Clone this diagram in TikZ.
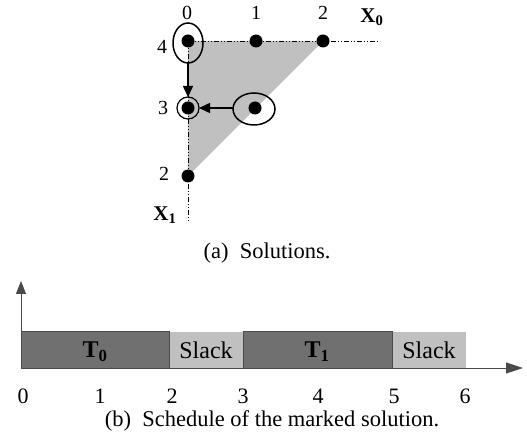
\documentclass[tikz,border=0pt]{standalone}
\usepackage{fontspec}
\setmainfont{Liberation Serif}
\usetikzlibrary{arrows.meta}
\definecolor{lgray}{HTML}{C0C0C0}
\definecolor{dgray}{HTML}{707070}
\definecolor{dedge}{HTML}{4A4A4A}
\begin{document}
\begin{tikzpicture}[x=1pt,y=-1pt,
  dot/.style={circle,fill=black,inner sep=0pt,minimum size=13pt},
  lbl/.style={inner sep=0pt,font=\fontsize{20}{22}\selectfont},
  axisdd/.style={line width=0.9pt,dash pattern=on 5pt off 2pt on 1pt off 2pt on 1pt off 2pt},
  arr/.style={line width=1.5pt,-{Triangle[length=11pt,width=10pt]}},
  task/.style={fill=dgray,draw=dedge,line width=1pt},
  slackbox/.style={fill=lgray},
  txt/.style={inner sep=0pt,font=\fontsize{24}{26}\selectfont},
  captxt/.style={inner sep=0pt,font=\fontsize{22.5}{24}\selectfont}]
\useasboundingbox (0,0) rectangle (527,443);
% top plot
\fill[lgray] (188,41) -- (323,41) -- (188,176) -- cycle;
\coordinate (x0end) at (380,41);
\coordinate (x1end) at (188,222);
\coordinate (orig) at (188,41);
\draw[axisdd] (orig) -- (x0end);
\draw[axisdd] (orig) -- (x1end);
\node[dot] (p04) at (188,41) {};
\node[dot] (p14) at (256,41) {};
\node[dot] (p24) at (323,41) {};
\node[dot] (p03) at (188,108) {};
\node[dot] (p13) at (255,108) {};
\node[dot] (p02) at (188,176) {};
\draw[line width=1.5pt] (188,43) ellipse [x radius=15, y radius=20];
\draw[line width=1.5pt] (254,109) ellipse [x radius=21, y radius=16];
\draw[line width=1.2pt] (188,108) circle [radius=11];
\coordinate (e1b) at (188,63);
\coordinate (c1t) at (188,97);
\coordinate (e2l) at (233,108);
\coordinate (c1r) at (199,108);
\draw[arr] (e1b) -- (c1t);
\draw[arr] (e2l) -- (c1r);
\node[lbl] (t0) at (187,13) {0};
\node[lbl] (t1) at (256,13) {1};
\node[lbl] (t2) at (323,13) {2};
\node[lbl] (r4) at (162,47) {4};
\node[lbl] (r3) at (163,108) {3};
\node[lbl] (r2) at (164,174) {2};
\node[lbl,font=\fontsize{21}{22}\selectfont\bfseries] (lx0) at (372,17) {X$_{\mathbf 0}$};
\node[lbl,font=\fontsize{21}{22}\selectfont\bfseries] (lx1) at (165,215) {X$_{\mathbf 1}$};
\node[captxt] (capa) at (267,253) {(a)\ \ Solutions.};
% bottom schedule
\fill[slackbox] (169,332) rectangle (243,368);
\fill[slackbox] (392,332) rectangle (466,368);
\draw[task] (21,332) rectangle (169,368);
\draw[task] (243,332) rectangle (392,368);
\coordinate (o) at (21,368);
\coordinate (ytip) at (21,281);
\coordinate (xtip) at (523,368);
\draw[line width=1pt,draw=dedge,-{Triangle[length=13pt,width=10pt]}] (o) -- (ytip);
\draw[line width=1pt,draw=dedge,-{Triangle[length=17pt,width=11pt]}] (o) -- (xtip);
\node[txt,font=\fontsize{24}{26}\selectfont\bfseries] (T0) at (95,352) {T$_{\mathbf 0}$};
\node[txt] (S1) at (206,350) {Slack};
\node[txt,font=\fontsize{24}{26}\selectfont\bfseries] (T1) at (317,352) {T$_{\mathbf 1}$};
\node[txt] (S2) at (429,350) {Slack};
\foreach \v/\xx in {0/23,1/100,2/172,3/243,4/318,5/394,6/465}
  \node[lbl,font=\fontsize{22}{24}\selectfont] (n\v) at (\xx,396) {\v};
\node[captxt] (capb) at (272,421) {(b)\ \ Schedule of the marked solution.};
\end{tikzpicture}
\end{document}
